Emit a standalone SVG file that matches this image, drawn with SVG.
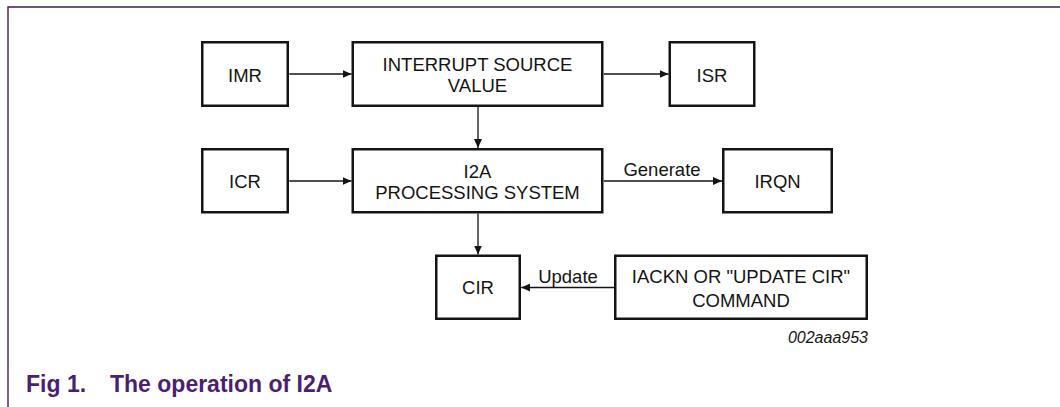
<svg xmlns="http://www.w3.org/2000/svg" width="1060" height="407" viewBox="0 0 1060 407">
  <style>
    .box { fill: #ffffff; stroke: #141414; stroke-width: 2.5; }
    .lbl { font-family: "Liberation Sans", Arial, sans-serif; font-size: 18.5px; fill: #141414; text-anchor: middle; }
    .edge { fill: none; stroke: #141414; stroke-width: 1.3; marker-end: url(#arrow); }
    .elbl { font-family: "Liberation Sans", Arial, sans-serif; font-size: 18.5px; fill: #141414; text-anchor: middle; }
    .code { font-family: "Liberation Sans", Arial, sans-serif; font-size: 16px; font-style: italic; fill: #141414; text-anchor: end; }
    .cap { font-family: "Liberation Sans", Arial, sans-serif; font-size: 23px; font-weight: bold; fill: #4b1f6f; }
    .frame { fill: none; stroke: #45195e; stroke-width: 1.4; }
  </style>
  <defs>
    <marker id="arrow" viewBox="0 0 9 8" refX="9" refY="4" markerWidth="9" markerHeight="8" markerUnits="userSpaceOnUse" orient="auto">
      <path d="M0,0 L9,4 L0,8 z" fill="#141414"/>
    </marker>
  </defs>

  <rect width="1060" height="407" fill="#ffffff"/>

  <!-- page frame: top and left rules -->
  <path class="frame" d="M1060,7 H8 V407"/>

  <!-- connectors -->
  <g id="connectors">
    <path class="edge" d="M289.25,74 H351.5"/>
    <path class="edge" d="M603.75,74 H668.5"/>
    <path class="edge" d="M478,107 V148"/>
    <path class="edge" d="M289.25,181 H351.5"/>
    <path class="edge" d="M603.75,181 H722"/>
    <text class="elbl" x="662" y="176">Generate</text>
    <path class="edge" d="M478,213.5 V254.5"/>
    <path class="edge" d="M614,287.5 H521.25"/>
    <text class="elbl" x="568" y="283">Update</text>
  </g>

  <!-- nodes -->
  <g id="imr">
    <rect class="box" x="202.25" y="42.25" width="85.5" height="63.5"/>
    <text class="lbl" x="245" y="81.5">IMR</text>
  </g>
  <g id="interrupt-source-value">
    <rect class="box" x="352.75" y="42.25" width="249.5" height="63.5"/>
    <text class="lbl" x="477.5" y="70.5">INTERRUPT SOURCE</text>
    <text class="lbl" x="477.5" y="91.5">VALUE</text>
  </g>
  <g id="isr">
    <rect class="box" x="669.75" y="42.25" width="84.5" height="63.5"/>
    <text class="lbl" x="712" y="81.5">ISR</text>
  </g>
  <g id="icr">
    <rect class="box" x="202.25" y="149.25" width="85.5" height="63"/>
    <text class="lbl" x="245" y="187.5">ICR</text>
  </g>
  <g id="i2a-processing">
    <rect class="box" x="352.75" y="149.25" width="249.5" height="63"/>
    <text class="lbl" x="477.5" y="177.5">I2A</text>
    <text class="lbl" x="477.5" y="198.5">PROCESSING SYSTEM</text>
  </g>
  <g id="irqn">
    <rect class="box" x="723.25" y="149.25" width="108.5" height="63"/>
    <text class="lbl" x="777.5" y="188">IRQN</text>
  </g>
  <g id="cir">
    <rect class="box" x="436.25" y="255.75" width="83.5" height="63"/>
    <text class="lbl" x="478" y="294">CIR</text>
  </g>
  <g id="iackn-command">
    <rect class="box" x="615.25" y="255.75" width="251.5" height="63"/>
    <text class="lbl" x="741" y="283.3">IACKN OR "UPDATE CIR"</text>
    <text class="lbl" x="741" y="306.5">COMMAND</text>
  </g>

  <text class="code" x="868" y="343">002aaa953</text>

  <text class="cap" y="392"><tspan x="26">Fig 1.</tspan><tspan x="110">The operation of I2A</tspan></text>
</svg>
